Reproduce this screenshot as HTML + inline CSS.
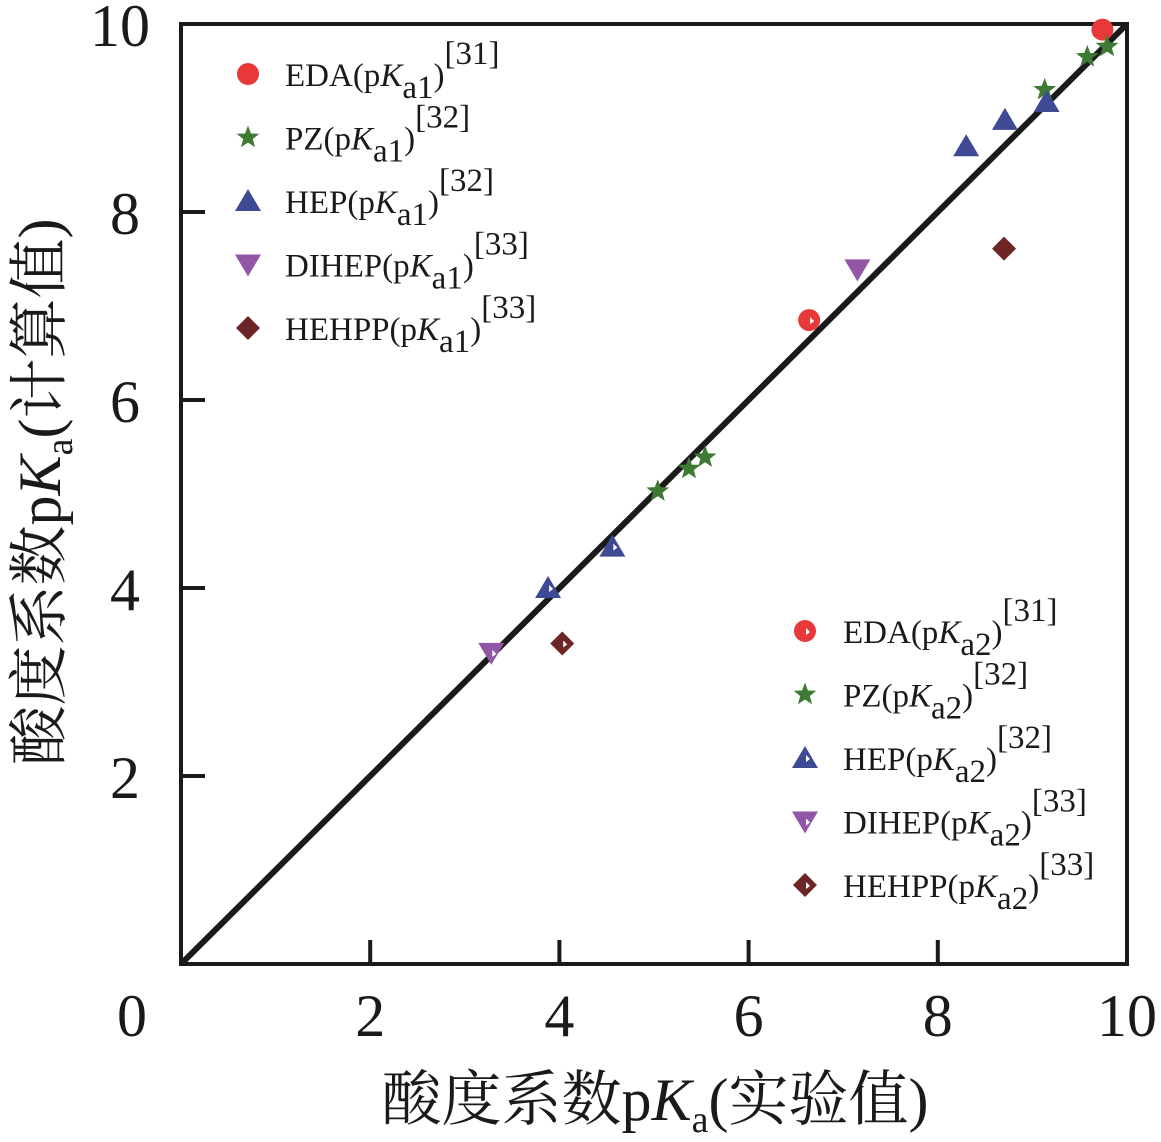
<!DOCTYPE html>
<html><head><meta charset="utf-8">
<style>
html,body{margin:0;padding:0;background:#fff;}
svg{display:block;}
text{font-family:"Liberation Serif","Noto Serif CJK SC",serif;fill:#1a1a1a;}
</style></head>
<body>
<svg id="chart" width="1161" height="1142" viewBox="0 0 1161 1142" xmlns="http://www.w3.org/2000/svg">
<g id="axes"></g>
<g id="marks"></g>
<g id="legend"></g>
<text x="655" y="1120" font-size="60" text-anchor="middle">酸度系数p<tspan font-style="italic">K</tspan><tspan font-size="38" dy="12">a</tspan><tspan dy="-12">(实验值)</tspan></text>
<text transform="translate(60,492) rotate(-90)" font-size="60" text-anchor="middle">酸度系数p<tspan font-style="italic">K</tspan><tspan font-size="38" dy="12">a</tspan><tspan dy="-12">(计算值)</tspan></text>
</svg>
<script>
const xTicks = [2, 4, 6, 8, 10];
const yTicks = [2, 4, 6, 8, 10];
const seriesNames = ["EDA", "PZ", "HEP", "DIHEP", "HEHPP"];
const refs = ["[31]", "[32]", "[32]", "[33]", "[33]"];
const pka1X = [[9.74], [9.13, 9.58, 9.79], [8.30, 8.71, 9.15], [7.15], [8.70]];
const pka1Y = [[9.94], [9.30, 9.65, 9.76], [8.70, 8.98, 9.17], [7.39], [7.61]];
const pka2X = [[6.64], [5.04, 5.37, 5.54], [3.88, 4.56], [3.28], [4.03]];
const pka2Y = [[6.85], [5.03, 5.27, 5.39], [4.00, 4.44], [3.31], [3.41]];
const colors = ["#e8393a", "#3f7a35", "#3f4a94", "#9157a5", "#6e2525"];
const shapes = ["circle", "star", "tri", "itri", "diamond"];

const NS = "http://www.w3.org/2000/svg";
const L = 181, R = 1127, T = 24, B = 964;
const xs = v => L + v / 10 * (R - L);
const ys = v => B - v / 10 * (B - T);
function mk(tag, attrs, parent) {
  const e = document.createElementNS(NS, tag);
  for (const k in attrs) e.setAttribute(k, attrs[k]);
  parent.appendChild(e);
  return e;
}
const axes = document.getElementById("axes");
const frame = mk("rect", {x: L, y: T, width: R - L, height: B - T, fill: "none", stroke: "#1a1a1a", "stroke-width": 4}, axes);


xTicks.forEach(t => {
  if (t < 10) {
    const l = mk("line", {x1: xs(t), x2: xs(t), y1: B, y2: B - 24, stroke: "#1a1a1a", "stroke-width": 4}, axes);
    
    
  }
  const tx = mk("text", {x: xs(t), y: 1036, "font-size": 60, "text-anchor": "middle"}, axes);
  tx.textContent = t;
  
  
});
const zero = mk("text", {x: 132, y: 1036, "font-size": 60, "text-anchor": "middle"}, axes);
zero.textContent = "0";


yTicks.forEach(t => {
  if (t < 10) {
    const l = mk("line", {x1: L, x2: L + 24, y1: ys(t), y2: ys(t), stroke: "#1a1a1a", "stroke-width": 4}, axes);
    
    
  }
  const tx = mk("text", {x: t === 10 ? 150 : 140, y: ys(t) + 22, "font-size": 60, "text-anchor": "end"}, axes);
  tx.textContent = t;
  
  
});
const diag = mk("line", {x1: xs(0), y1: ys(0), x2: xs(10), y2: ys(10), stroke: "#1a1a1a", "stroke-width": 6}, axes);



function marker(shape, cx, cy, color, notch, parent) {
  const g = mk("g", {}, parent);
  const s = 12;
  if (shape === "circle") mk("circle", {cx, cy, r: 11, fill: color}, g);
  else if (shape === "star") {
    let p = [];
    for (let i = 0; i < 10; i++) {
      const r = i % 2 ? 5 : 12, a = -Math.PI / 2 + i * Math.PI / 5;
      p.push((cx + r * Math.cos(a)).toFixed(1) + "," + (cy + r * Math.sin(a)).toFixed(1));
    }
    mk("polygon", {points: p.join(" "), fill: color}, g);
  } else if (shape === "tri") mk("polygon", {points: `${cx},${cy - s} ${cx + s + 1},${cy + s - 2} ${cx - s - 1},${cy + s - 2}`, fill: color}, g);
  else if (shape === "itri") mk("polygon", {points: `${cx},${cy + s} ${cx + s + 1},${cy - s + 2} ${cx - s - 1},${cy - s + 2}`, fill: color}, g);
  else mk("polygon", {points: `${cx},${cy - s} ${cx + s},${cy} ${cx},${cy + s} ${cx - s},${cy}`, fill: color}, g);
  if (notch && shape !== "star") mk("polygon", {points: `${cx + 1},${cy - 3} ${cx + 5},${cy + 1} ${cx + 1},${cy + 4}`, fill: "#fff"}, g);
  return g;
}
const marks = document.getElementById("marks");
seriesNames.forEach((n, i) => {
  pka1X[i].forEach((v, j) => {
    const g = marker(shapes[i], xs(v), ys(pka1Y[i][j]), colors[i], false, marks);
    
    
  });
  pka2X[i].forEach((v, j) => {
    const g = marker(shapes[i], xs(v), ys(pka2Y[i][j]), colors[i], true, marks);
    
    
  });
});

const legend = document.getElementById("legend");
function legendBlock(mx, tx, y0, sub, notch) {
  seriesNames.forEach((n, i) => {
    const cy = y0 + i * 63.5;
    const g = mk("g", {}, legend);
    
    
    marker(shapes[i], mx, cy, colors[i], notch, g);
    const t = mk("text", {x: tx, y: cy + 12, "font-size": 33}, g);
    t.innerHTML = `${n}(p<tspan font-style="italic">K</tspan><tspan dy="12">${sub}</tspan><tspan dy="-12">)</tspan><tspan dy="-22">${refs[i]}</tspan>`;
  });
}
legendBlock(248, 285, 74, "a1", false);
legendBlock(805, 843, 631, "a2", true);
</script>
</body></html>
